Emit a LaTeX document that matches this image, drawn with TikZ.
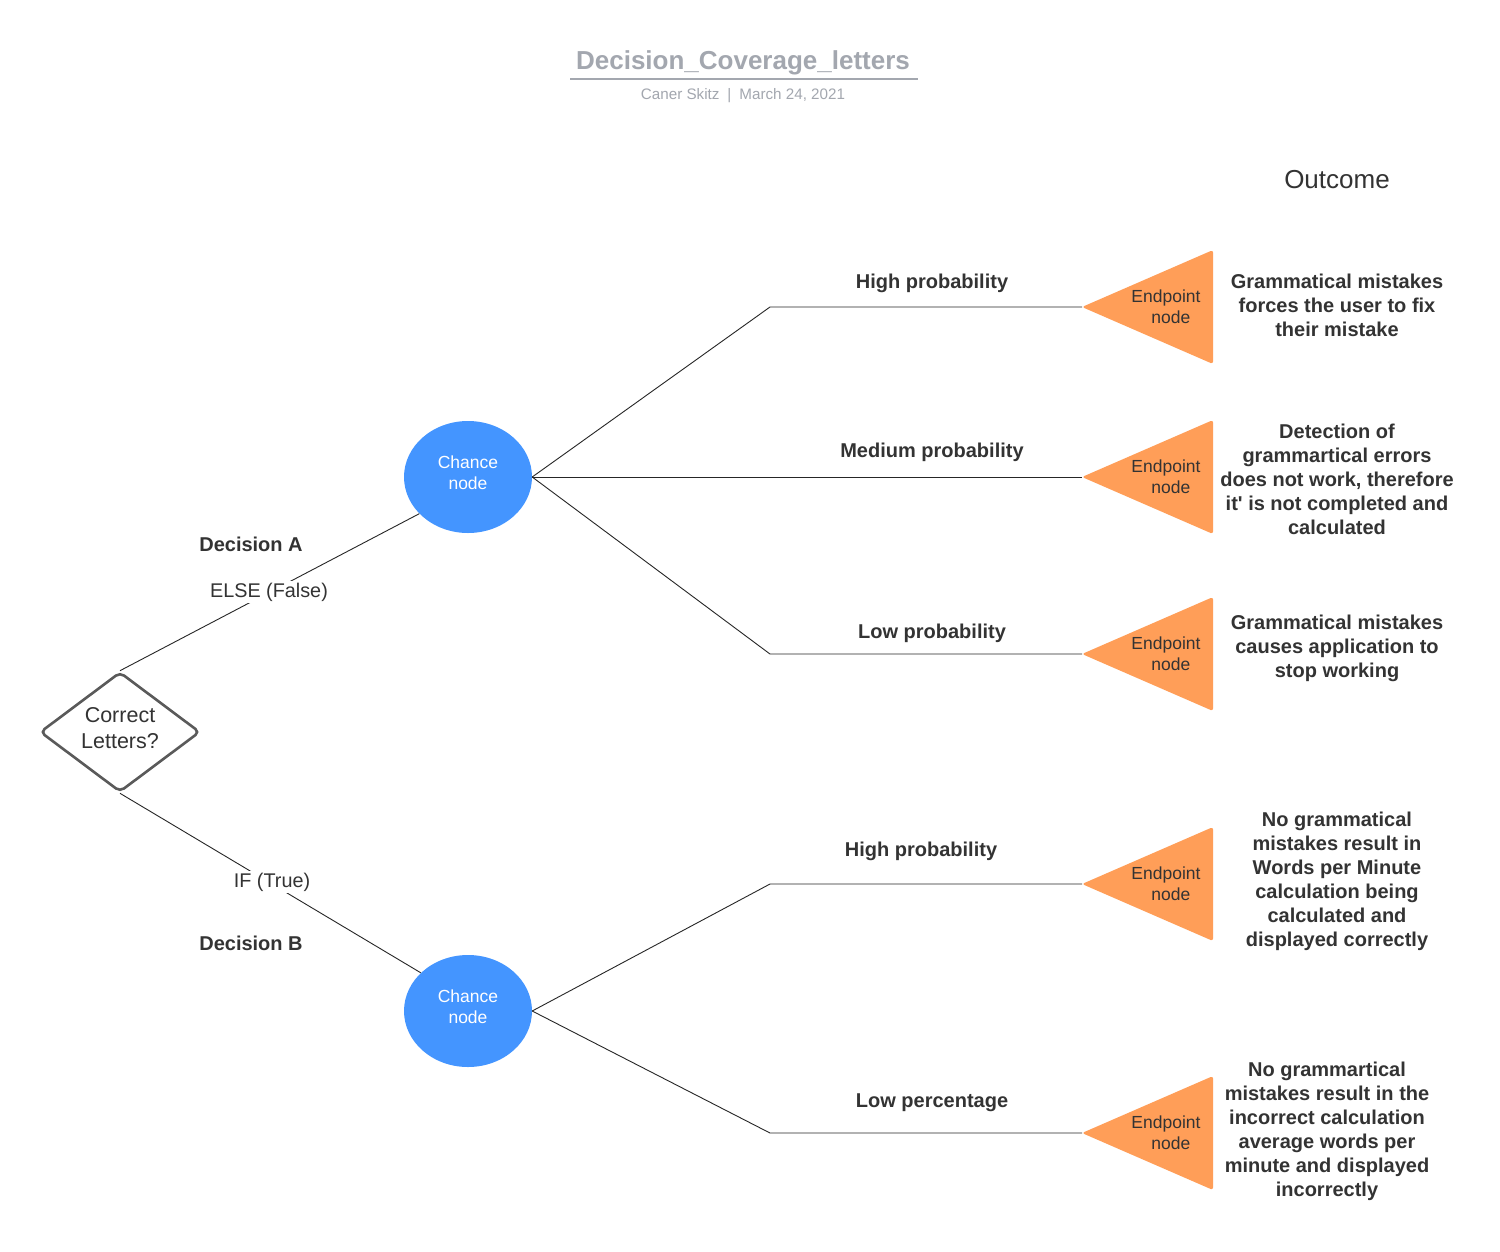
\documentclass[tikz,border=0pt]{standalone}
\usepackage{fontspec}
\setmainfont{Liberation Sans}
\usetikzlibrary{shapes.geometric}
\definecolor{txt}{HTML}{333333}
\definecolor{ttl}{HTML}{A3A7AF}
\definecolor{chblue}{HTML}{4495FF}
\definecolor{endor}{HTML}{FF9E58}
\definecolor{dgray}{HTML}{5A5A5A}
\begin{document}
\begin{tikzpicture}[x=1pt,y=-1pt,
  conn/.style={draw=black!85, line width=0.9pt},
  chance/.style={ellipse, fill=chblue, minimum width=128pt, minimum height=112pt, inner sep=0pt},
  chtxt/.style={text=white, align=center, font=\fontsize{17.5}{21}\selectfont},
  endtxt/.style={text=txt, align=center, font=\fontsize{17.5}{21}\selectfont},
  lbl/.style={text=txt, fill=white, inner sep=2pt, font=\fontsize{19.8}{23}\selectfont},
  boldlbl/.style={text=txt, font=\bfseries\fontsize{20}{24}\selectfont},
  outtxt/.style={text=txt, align=center, font=\bfseries\fontsize{20}{24}\selectfont}]
\useasboundingbox (0,0) rectangle (1500,1251);
\fill[white] (0,0) rectangle (1500,1251);
% title
\node[text=ttl, font=\bfseries\fontsize{26}{30}\selectfont] (title) at (743,63) {Decision\_Coverage\_letters};
\draw[ttl, line width=1.5pt] (570,79) -- (918,79);
\node[text=ttl, font=\fontsize{15.2}{18}\selectfont] (sub) at (743,96) {Caner Skitz\hspace{8pt}|\hspace{8pt}March 24, 2021};
\node[text=txt, font=\fontsize{26}{31}\selectfont] (outcome) at (1337,180) {Outcome};
% decision
\node[diamond, draw=dgray, line width=2.6pt, rounded corners=5pt, minimum width=160pt, minimum height=120pt, inner sep=0pt] (dec) at (120,732) {};
\node[text=txt, align=center, font=\fontsize{21.5}{26}\selectfont] (dect) at (120,728) {Correct\\Letters?};
% chance nodes
\node[chance] (cA) at (468,477) {};
\node[chtxt] (cAt) at (468,473) {Chance\\node};
\node[chance] (cB) at (468,1011) {};
\node[chtxt] (cBt) at (468,1007) {Chance\\node};
% endpoints
\foreach \y/\n in {307/1,477/2,654/3,884/4,1133/5}{
  \coordinate (t\n) at (1082,\y);
  \fill[endor, rounded corners=2.5pt] (t\n) -- (1213,\y-57) -- (1213,\y+57) -- cycle;
  \node[endtxt] (e\n) at (1166,\y) {Endpoint\\\ \ node};
}
\coordinate (k1) at (770,307);
\coordinate (k3) at (770,654);
\coordinate (k4) at (770,884);
\coordinate (k5) at (770,1133);
% connectors
\draw[conn] (dec.north) -- (cA.217);
\draw[conn] (dec.south) -- (cB.141);
\draw[conn] (cA.east) -- (k1) -- (t1);
\draw[conn] (cA.east) -- (t2);
\draw[conn] (cA.east) -- (k3) -- (t3);
\draw[conn] (cB.east) -- (k4) -- (t4);
\draw[conn] (cB.east) -- (k5) -- (t5);
% labels
\node[lbl] (else) at (269,592) {ELSE (False)};
\node[lbl] (iftrue) at (272,882) {IF (True)};
\node[boldlbl] (da) at (251,544) {Decision A};
\node[boldlbl] (db) at (251,943) {Decision B};
\node[boldlbl] (p1) at (932,283) {High probability};
\node[boldlbl] (p2) at (932,452) {Medium probability};
\node[boldlbl] (p3) at (932,633) {Low probability};
\node[boldlbl] (p4) at (921,851) {High probability};
\node[boldlbl] (p5) at (932,1103) {Low percentage};
% outcomes
\node[outtxt] (o1) at (1337,305) {Grammatical mistakes\\forces the user to fix\\their mistake};
\node[outtxt] (o2) at (1337,479) {Detection of\\grammartical errors\\does not work, therefore\\it\textquotesingle{} is not completed and\\calculated};
\node[outtxt] (o3) at (1337,648) {Grammatical mistakes\\causes application to\\stop working};
\node[outtxt] (o4) at (1337,881) {No grammatical\\mistakes result in\\Words per Minute\\calculation being\\calculated and\\displayed correctly};
\node[outtxt] (o5) at (1327,1131) {No grammartical\\mistakes result in the\\incorrect calculation\\average words per\\minute and displayed\\incorrectly};
\end{tikzpicture}
\end{document}
